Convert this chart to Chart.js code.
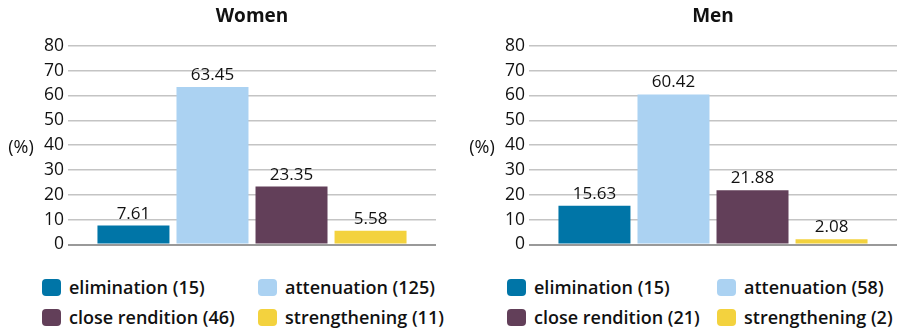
<!DOCTYPE html>
<html>
<head>
<meta charset="utf-8">
<script src="https://cdn.jsdelivr.net/npm/chart.js@4/dist/chart.umd.min.js"></script>
<style>
  body { margin: 0; background: #fff; width: 910px; height: 330px; overflow: hidden; position: relative; font-family: "Open Sans", sans-serif; }
  .panel { position: absolute; top: 0; width: 455px; height: 259px; }
  .legend-item { position: absolute; height: 24px; display: flex; align-items: center; font-weight: 600; font-size: 18px; color: #111; white-space: nowrap; }
  .swatch { width: 19px; height: 17px; border-radius: 4px; margin-right: 8px; flex: none; }
</style>
</head>
<body>
<div class="panel" style="left:0"><canvas id="women" width="455" height="259"></canvas></div>
<div class="panel" style="left:461px"><canvas id="men" width="455" height="259"></canvas></div>
<div id="legends"></div>
<script>
// Translation strategies and their shares (%) with raw counts
const categories = ['elimination', 'attenuation', 'close rendition', 'strengthening'];
const colors = ['#0075a7', '#abd2f2', '#623f59', '#f3d23e'];
const womenPct = [7.61, 63.45, 23.35, 5.58];
const womenCounts = [15, 125, 46, 11];
const menPct = [15.63, 60.42, 21.88, 2.08];
const menCounts = [15, 58, 21, 2];
const yTicks = [0, 10, 20, 30, 40, 50, 60, 70, 80];

const FONT = '"Open Sans", sans-serif';

// value labels above each bar
const valueLabels = {
  id: 'valueLabels',
  afterDatasetsDraw(chart) {
    const ctx = chart.ctx;
    ctx.save();
    ctx.font = '17px ' + FONT;
    ctx.fillStyle = '#111';
    ctx.textAlign = 'center';
    ctx.textBaseline = 'alphabetic';
    chart.data.datasets.forEach((ds, i) => {
      const el = chart.getDatasetMeta(i).data[0];
      ctx.fillText(ds.data[0].toFixed(2), el.x, el.y - 7);
    });
    ctx.restore();
  }
};

// horizontal "(%)" axis caption
const unitCaption = {
  id: 'unitCaption',
  afterDraw(chart) {
    const { ctx, chartArea } = chart;
    ctx.save();
    ctx.font = '18px ' + FONT;
    ctx.fillStyle = '#111';
    ctx.textAlign = 'center';
    ctx.textBaseline = 'middle';
    ctx.fillText('(%)', 21, (chartArea.top + chartArea.bottom) / 2 + 3);
    ctx.restore();
  }
};

function makeChart(id, title, pct) {
  return new Chart(document.getElementById(id), {
    type: 'bar',
    data: {
      labels: [''],
      datasets: categories.map((c, i) => ({
        label: c,
        data: [pct[i]],
        backgroundColor: colors[i],
        borderWidth: 0,
        categoryPercentage: 0.859,
        barPercentage: 0.911
      }))
    },
    options: {
      responsive: false,
      animation: false,
      devicePixelRatio: 1,
      layout: { padding: { left: 0, right: 19, top: 0, bottom: 10 } },
      plugins: {
        legend: { display: false },
        tooltip: { enabled: false },
        title: {
          display: true,
          fullSize: false,
          text: title,
          color: '#111',
          font: { family: FONT, size: 19, weight: 'bold' },
          padding: { top: 5, bottom: 18 }
        }
      },
      scales: {
        x: { type: 'category', display: false },
        y: {
          min: 0,
          max: 80,
          afterBuildTicks: s => { s.ticks = yTicks.map(v => ({ value: v })); },
          afterFit: s => { s.width = 68; },
          border: { display: false },
          grid: {
            drawTicks: false,
            color: c => (c.tick && c.tick.value === 0 ? '#999999' : '#c4c4c4'),
            lineWidth: c => (c.tick && c.tick.value === 0 ? 2 : 1.5)
          },
          ticks: { color: '#111', padding: 4, font: { family: FONT, size: 17.5 } }
        }
      }
    },
    plugins: [valueLabels, unitCaption]
  });
}

makeChart('women', 'Women', womenPct);
makeChart('men', 'Men', menPct);

// 2x2 legends under each panel
function buildLegend(counts, colX) {
  const rowY = [275, 305];
  const order = [[0, 1], [2, 3]];
  const host = document.getElementById('legends');
  order.forEach((row, r) => row.forEach((idx, c) => {
    const item = document.createElement('div');
    item.className = 'legend-item';
    item.style.left = colX[c] + 'px';
    item.style.top = rowY[r] + 'px';
    const sw = document.createElement('span');
    sw.className = 'swatch';
    sw.style.background = colors[idx];
    const tx = document.createElement('span');
    tx.textContent = categories[idx] + ' (' + counts[idx] + ')';
    item.appendChild(sw);
    item.appendChild(tx);
    host.appendChild(item);
  }));
}
buildLegend(womenCounts, [42, 258]);
buildLegend(menCounts, [507, 717]);
</script>
</body>
</html>
